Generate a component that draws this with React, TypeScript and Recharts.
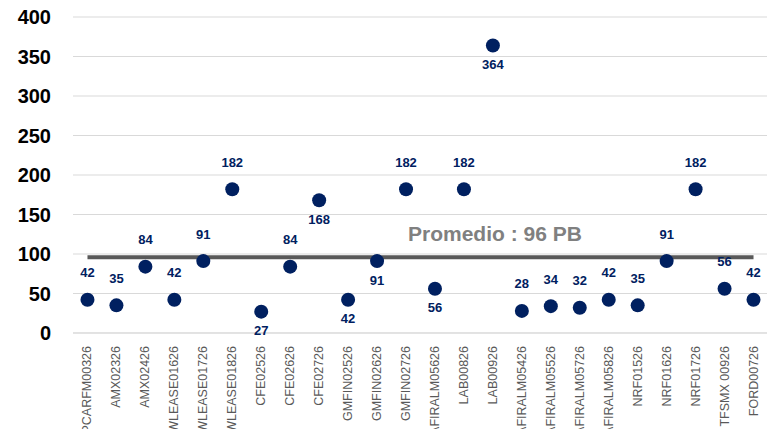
import React from 'react';
import { ComposedChart, Line, XAxis, YAxis, CartesianGrid, LabelList } from 'recharts';

const categories = [
  'PCARFM00326', 'AMX02326', 'AMX02426', 'VWLEASE01626', 'VWLEASE01726', 'VWLEASE01826',
  'CFE02526', 'CFE02626', 'CFE02726', 'GMFIN02526', 'GMFIN02626', 'GMFIN02726',
  'AFIRALM05626', 'LAB00826', 'LAB00926', 'AFIRALM05426', 'AFIRALM05526', 'AFIRALM05726',
  'AFIRALM05826', 'NRF01526', 'NRF01626', 'NRF01726', 'TFSMX 00926', 'FORD00726',
];
const values = [42, 35, 84, 42, 91, 182, 27, 84, 168, 42, 91, 182, 56, 182, 364, 28, 34, 32, 42, 35, 91, 182, 56, 42];
const average = 96;
const yTicks = [0, 50, 100, 150, 200, 250, 300, 350, 400];

// labels drawn under the point instead of above
const below = new Set([6, 8, 9, 10, 12, 14]);

const data = categories.map((name, i) => ({ name, value: values[i], avg: average }));

const NAVY = '#002060';
const FONT = "'Liberation Sans', Arial, sans-serif";

const XTick = ({ x, y, payload }: any) => (
  <text
    transform={`translate(${x},${y + 5}) rotate(-90)`}
    textAnchor="end"
    dominantBaseline="central"
    fontSize={12.5}
    fill="#595959"
    fontFamily={FONT}
  >
    {payload.value}
  </text>
);

const ValueLabel = ({ x, y, value, index }: any) => (
  <text
    x={x}
    y={below.has(index) ? y + 19 : y - 27}
    textAnchor="middle"
    dominantBaseline="central"
    fontSize={13}
    fontWeight="bold"
    fill={NAVY}
    fontFamily={FONT}
  >
    {value}
  </text>
);

export default function App() {
  return (
    <div style={{ margin: -8, background: '#fff', width: 775, height: 437 }}>
      <ComposedChart width={775} height={437} data={data} margin={{ top: 17, right: 7, bottom: 0, left: 0 }}>
        <CartesianGrid vertical={false} stroke="#d9d9d9" />
        <XAxis
          dataKey="name"
          scale="band"
          interval={0}
          height={104}
          tick={<XTick />}
          tickLine={false}
          axisLine={{ stroke: '#d9d9d9' }}
        />
        <YAxis
          domain={[0, 400]}
          ticks={yTicks}
          width={73}
          tickLine={false}
          axisLine={false}
          tickMargin={16}
          tick={{ fontSize: 20, fontWeight: 'bold', fill: '#000', fontFamily: FONT }}
        />
        <Line
          dataKey="avg"
          stroke="#595959"
          strokeWidth={4}
          dot={false}
          activeDot={false}
          isAnimationActive={false}
        />
        <Line
          dataKey="value"
          stroke="none"
          dot={{ r: 7, fill: NAVY, stroke: NAVY, strokeWidth: 0 }}
          activeDot={false}
          isAnimationActive={false}
        >
          <LabelList dataKey="value" content={<ValueLabel />} />
        </Line>
      </ComposedChart>
      <div
        style={{
          position: 'absolute',
          left: 408,
          top: 222,
          fontSize: 21,
          fontWeight: 'bold',
          color: '#808080',
          fontFamily: FONT,
        }}
      >
        Promedio : 96 PB
      </div>
    </div>
  );
}
